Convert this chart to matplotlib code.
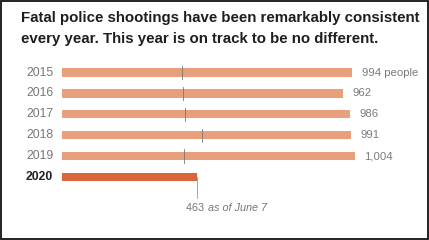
import matplotlib
matplotlib.use("Agg")
import matplotlib.pyplot as plt
from matplotlib.patches import Rectangle

years = ["2015", "2016", "2017", "2018", "2019", "2020"]
totals = [994, 962, 986, 991, 1004, 463]
june7 = [412, 415, 422, 480, 419, None]
value_labels = ["994 people", "962", "986", "991", "1,004"]
title = ("Fatal police shootings have been remarkably consistent\n"
         "every year. This year is on track to be no different.")

W, H = 429, 240
fig = plt.figure(figsize=(W / 100, H / 100), dpi=100)
fig.patch.set_facecolor("white")

# frame
fig.add_artist(Rectangle((0.5 / W, 1.5 / H), (W - 2) / W, (H - 2.5) / H,
                         transform=fig.transFigure, fill=False,
                         edgecolor="#111111", linewidth=1.3))

fig.text(21 / W, 1 - 11 / H, title, ha="left", va="top", fontsize=10.8,
         fontweight="bold", color="#1e1e1e", family="Liberation Sans",
         linespacing=1.65)

# axes: x from 61.7px, scale 0.292 px per unit; y rows at 72.5 + 20.9*k
px = 0.292
x0 = 61.7
xmax = 1100
ax_w = xmax * px
row0 = 72.5
step = 20.9
top_px = row0 - step * 0.5
bot_px = row0 + step * 5.5
ax = fig.add_axes([x0 / W, 1 - bot_px / H, ax_w / W, (bot_px - top_px) / H])
ax.set_xlim(0, xmax)
ax.set_ylim(5.5, -0.5)
ax.axis("off")

light = "#E8A07C"
dark = "#D9663A"
for i, (y, v) in enumerate(zip(years, totals)):
    last = i == len(years) - 1
    ax.barh(i, v, height=0.4, color=dark if last else light,
            edgecolor="none")
    ax.text(-29, i, y, ha="right", va="center",
            fontsize=8.8, fontweight="bold" if last else "normal",
            color="#222222" if last else "#777777", family="Liberation Sans")
    if june7[i] is not None:
        ax.plot([june7[i], june7[i]], [i - 0.32, i + 0.32], color="#777777", lw=0.6)
        ax.text(v + 33, i, value_labels[i], ha="left", va="center",
                fontsize=8.2, color="#7a7a7a", family="Liberation Sans")

v20 = totals[-1]
ax.plot([v20, v20], [5, 6.0], color="#999999", lw=0.6, clip_on=False)
t = ax.text(v20 - 36, 6.5, "463 ", ha="left", va="center", fontsize=7.8,
            color="#777777", family="Liberation Sans")
fig.canvas.draw()
ax.annotate("as of June 7", xy=(1, 0), xycoords=t, xytext=(0, 0),
            textcoords="offset points", ha="left", va="bottom",
            fontsize=7.8, style="italic", color="#777777",
            family="Liberation Sans", annotation_clip=False)

fig.savefig("out.png", dpi=100)
